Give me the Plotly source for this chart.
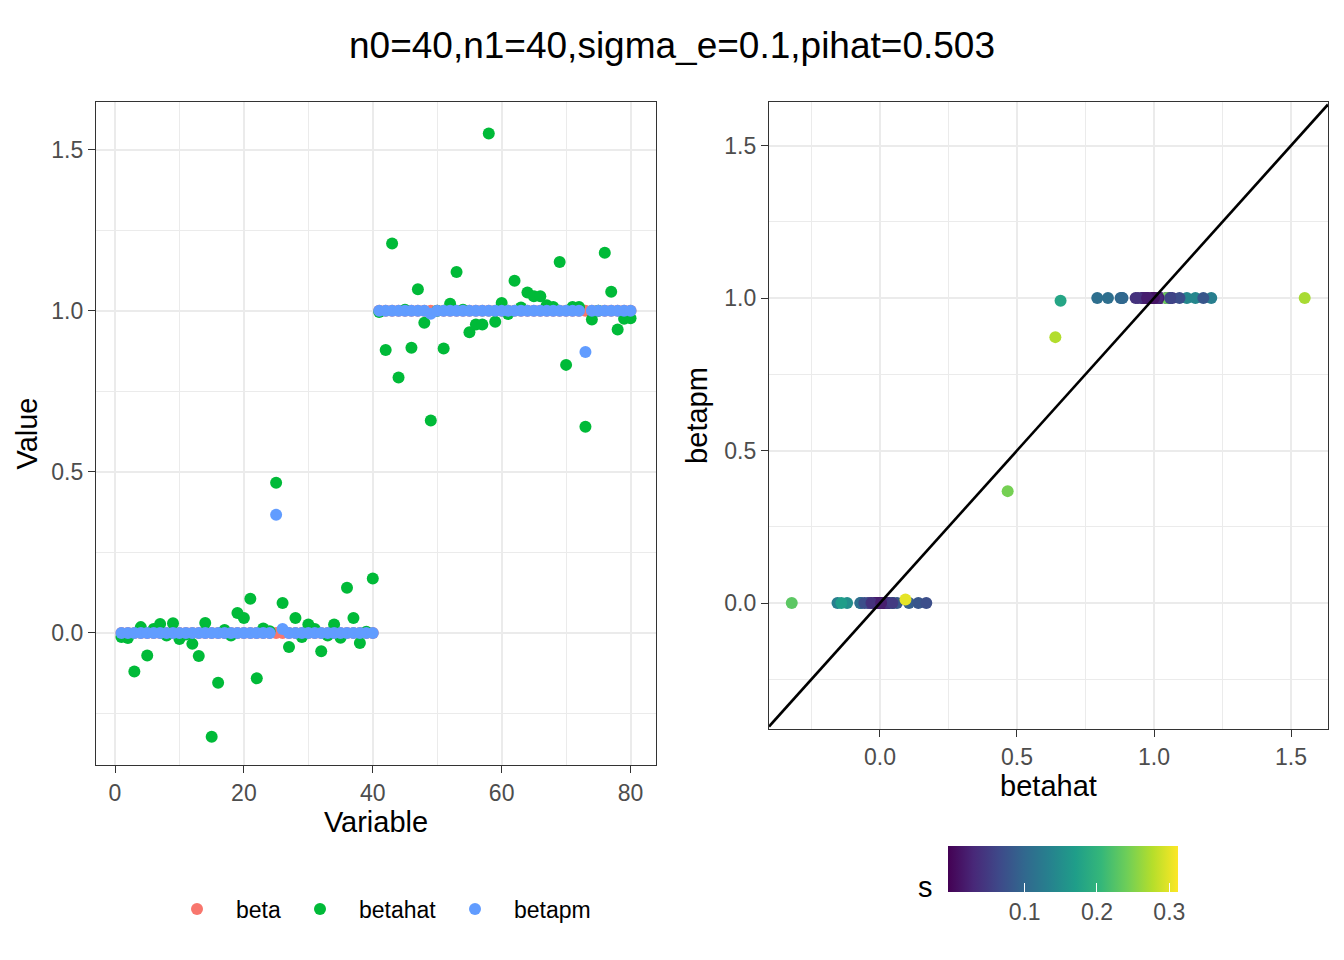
import plotly.graph_objects as go

# ---------------- data ----------------
variable = list(range(1, 81))
beta = [0.0] * 40 + [1.0] * 40
betahat = [
    -0.013, -0.016, -0.120, 0.018, -0.070, 0.012, 0.028, -0.008, 0.030, -0.019,
    -0.005, -0.034, -0.072, 0.031, -0.322, -0.155, 0.009, -0.008, 0.062, 0.046,
    0.106, -0.141, 0.014, 0.005, 0.466, 0.093, -0.044, 0.046, -0.013, 0.026,
    0.012, -0.057, -0.008, 0.026, -0.015, 0.140, 0.046, -0.031, 0.004, 0.169,
    0.996, 0.878, 1.209, 0.793, 1.003, 0.885, 1.067, 0.963, 0.659, 1.000,
    0.883, 1.022, 1.120, 1.003, 0.933, 0.957, 0.957, 1.550, 0.966, 1.024,
    0.990, 1.093, 1.010, 1.057, 1.045, 1.045, 1.017, 1.012, 1.151, 0.832,
    1.012, 1.012, 0.640, 0.973, 1.000, 1.180, 1.059, 0.942, 0.975, 0.977,
]
betapm = (
    [0.0] * 24 + [0.367, 0.012] + [0.0] * 14
    + [1.0] * 8 + [0.991] + [1.0] * 23 + [0.872] + [1.0] * 7
)
s = [
    0.03, 0.04, 0.15, 0.02, 0.10, 0.02, 0.05, 0.01, 0.04, 0.03,
    0.02, 0.06, 0.11, 0.03, 0.23, 0.13, 0.01, 0.02, 0.08, 0.06,
    0.09, 0.17, 0.02, 0.01, 0.245, 0.30, 0.05, 0.15, 0.02, 0.03,
    0.01, 0.07, 0.01, 0.04, 0.02, 0.08, 0.05, 0.04, 0.02, 0.07,
    0.02, 0.10, 0.13, 0.11, 0.30, 0.10, 0.05, 0.02, 0.18, 0.01,
    0.10, 0.03, 0.14, 0.02, 0.04, 0.02, 0.03, 0.27, 0.02, 0.03,
    0.01, 0.07, 0.02, 0.06, 0.04, 0.24, 0.02, 0.03, 0.14, 0.11,
    0.02, 0.03, 0.275, 0.03, 0.01, 0.08, 0.06, 0.04, 0.02, 0.02,
]
series_names = ["beta", "betahat", "betapm"]
series_colors = ["#F8766D", "#00BA38", "#619CFF"]
title_text = "n0=40,n1=40,sigma_e=0.1,pihat=0.503"
left_xrange = [-2.95, 83.95]
left_yrange = [-0.41, 1.648]
right_xrange = [-0.405, 1.635]
right_yrange = [-0.413, 1.643]
s_range = [-0.006, 0.312]
s_ticks = [0.1, 0.2, 0.3]

# ---------------- figure ----------------
W, H = 1344, 960
FONT = "Liberation Sans, Arial, Helvetica, sans-serif"
GRID = "#EBEBEB"
BORDER = "#333333"
TICKC = "#4D4D4D"
MS = 12

fig = go.Figure()

series_values = [beta, betahat, betapm]
legend_ids = ["legend", "legend2", "legend3"]
for name, col, vals, lg in zip(series_names, series_colors, series_values, legend_ids):
    fig.add_trace(go.Scatter(
        x=variable, y=vals, mode="markers", name=name,
        marker=dict(color=col, size=MS, line=dict(width=0)),
        xaxis="x", yaxis="y", legend=lg, showlegend=True,
    ))

fig.add_trace(go.Scatter(
    x=betahat, y=betapm, mode="markers", name="s", showlegend=False,
    marker=dict(
        color=s, colorscale="Viridis", cmin=s_range[0], cmax=s_range[1], size=MS,
        line=dict(width=0),
        colorbar=dict(
            orientation="h", x=1063 / W, xanchor="center", y=1 - 846 / H, yanchor="top",
            len=230, lenmode="pixels", thickness=46, thicknessmode="pixels",
            tickvals=s_ticks, ticktext=[str(t) for t in s_ticks],
            ticks="inside", ticklen=9, tickcolor="white", tickwidth=1.2,
            tickfont=dict(size=23, color=TICKC, family=FONT),
            outlinewidth=0, xpad=0, ypad=0,
        ),
    ),
    xaxis="x2", yaxis="y2",
))

# y = x reference line, spanning the right panel's range
fig.add_trace(go.Scatter(
    x=right_xrange, y=right_xrange, mode="lines", showlegend=False,
    line=dict(color="black", width=2.6), xaxis="x2", yaxis="y2", hoverinfo="skip",
))

axis_common = dict(
    showline=True, mirror=True, linecolor=BORDER, linewidth=1.4,
    showgrid=True, gridcolor=GRID, gridwidth=2, zeroline=False,
    ticks="outside", ticklen=7, tickcolor=BORDER, tickwidth=1.4,
    tickfont=dict(size=23, color=TICKC, family=FONT),
)

fig.update_layout(
    width=W, height=H,
    margin=dict(l=0, r=0, t=0, b=0),
    paper_bgcolor="white", plot_bgcolor="white",
    font=dict(family=FONT, color="black"),
    title=dict(text=title_text, x=0.5, xanchor="center", y=1 - 45 / H, yanchor="middle",
               font=dict(size=37, color="black", family=FONT)),
    xaxis=dict(domain=[96 / W, 656 / W], range=left_xrange, anchor="y",
               tick0=0, dtick=20,
               minor=dict(tick0=0, dtick=10, showgrid=True, gridcolor=GRID, gridwidth=1.1, ticks=""),
               title=dict(text="Variable", font=dict(size=29, color="black"), standoff=6),
               **axis_common),
    yaxis=dict(domain=[1 - 765 / H, 1 - 102 / H], range=left_yrange, anchor="x",
               tick0=0, dtick=0.5, tickformat=".1f",
               minor=dict(tick0=0, dtick=0.25, showgrid=True, gridcolor=GRID, gridwidth=1.1, ticks=""),
               title=dict(text="Value", font=dict(size=29, color="black"), standoff=5),
               **axis_common),
    xaxis2=dict(domain=[769 / W, 1328 / W], range=right_xrange, anchor="y2",
                tick0=0, dtick=0.5, tickformat=".1f",
                minor=dict(tick0=0, dtick=0.25, showgrid=True, gridcolor=GRID, gridwidth=1.1, ticks=""),
                title=dict(text="betahat", font=dict(size=29, color="black"), standoff=6),
                **axis_common),
    yaxis2=dict(domain=[1 - 729 / H, 1 - 102 / H], range=right_yrange, anchor="x2",
                tick0=0, dtick=0.5, tickformat=".1f",
                minor=dict(tick0=0, dtick=0.25, showgrid=True, gridcolor=GRID, gridwidth=1.1, ticks=""),
                title=dict(text="betapm", font=dict(size=29, color="black"), standoff=8),
                **axis_common),
)

legend_dot_x = [197, 320, 475]
legend_style = dict(orientation="h", yanchor="middle", y=1 - 909 / H, xanchor="left",
                    bgcolor="rgba(0,0,0,0)", borderwidth=0,
                    font=dict(size=23, color="black", family=FONT), itemwidth=68)
fig.update_layout(
    legend=dict(x=(legend_dot_x[0] - 39) / W, **legend_style),
    legend2=dict(x=(legend_dot_x[1] - 39) / W, **legend_style),
    legend3=dict(x=(legend_dot_x[2] - 39) / W, **legend_style),
)

fig.add_annotation(text="s", x=925 / W, y=1 - 887 / H, xref="paper", yref="paper",
                   xanchor="center", yanchor="middle", showarrow=False,
                   font=dict(size=29, color="black", family=FONT))

fig.write_html("out.html", config={"displayModeBar": False},
               post_script="document.body.style.margin='0px';")
